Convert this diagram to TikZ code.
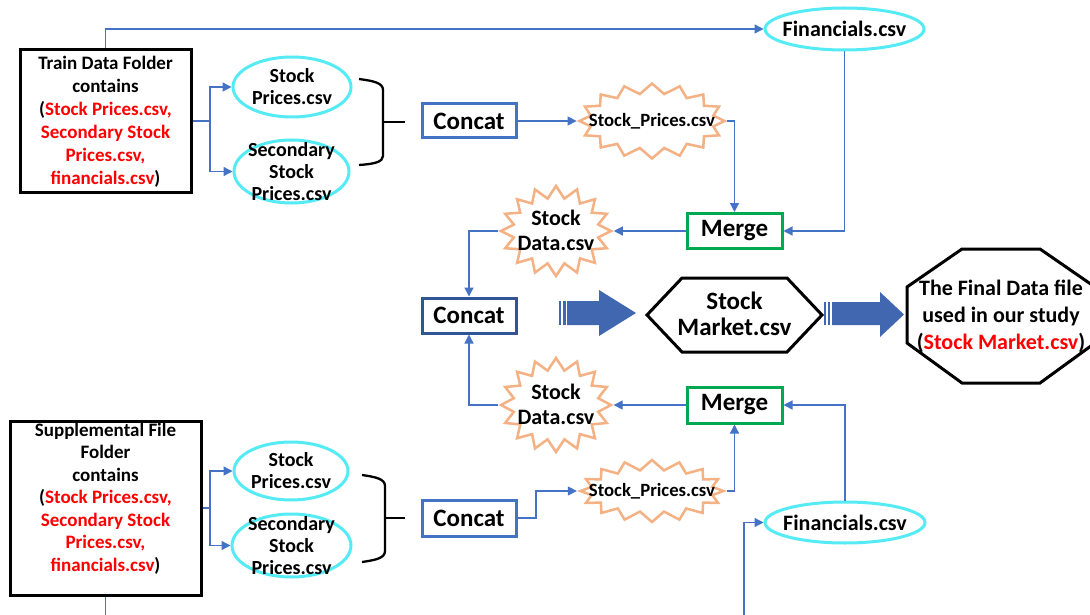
\documentclass[tikz,border=0pt]{standalone}
\usepackage{fontspec}
\setmainfont{Carlito}
\usetikzlibrary{shapes.geometric,shapes.symbols,arrows.meta}
\definecolor{cy}{RGB}{85,235,245}
\definecolor{ln}{RGB}{68,114,196}
\definecolor{cb}{RGB}{68,114,196}
\definecolor{cbd}{RGB}{47,85,151}
\definecolor{gr}{RGB}{0,168,80}
\definecolor{org}{RGB}{244,177,131}
\definecolor{blk}{RGB}{65,103,176}
\definecolor{rd}{RGB}{255,0,0}
\tikzset{
  conn/.style={draw=ln, line width=1.3pt},
  arr/.style={conn, -{Triangle[length=9pt,width=9pt]}},
  fileell/.style={ellipse, draw=cy, line width=3pt, fill=white, inner sep=0pt},
  folder/.style={rectangle, draw=black, line width=3pt, fill=white, inner sep=0pt},
  concatbox/.style={rectangle, draw=cb, line width=3pt, fill=white, minimum width=94pt, minimum height=34pt, inner sep=0pt, font=\fontsize{25}{28}\selectfont\bfseries},
  mergebox/.style={rectangle, draw=gr, line width=3pt, fill=white, minimum width=95pt, minimum height=35pt, inner sep=0pt, font=\fontsize{25}{28}\selectfont\bfseries},
  burst/.style={starburst, starburst points=16, random starburst=0, starburst point height=10pt, draw=org, line width=2.5pt, fill=white, inner sep=0pt},
  txt/.style={align=center, inner sep=0pt},
  boxtxt/.style={txt, font=\fontsize{19}{23}\selectfont\bfseries},
  elltxt/.style={txt, font=\fontsize{20}{22}\selectfont\bfseries},
  sprtxt/.style={txt, font=\fontsize{18.7}{20}\selectfont\bfseries},
  fintxt/.style={txt, font=\fontsize{22}{24}\selectfont\bfseries},
  sdtxt/.style={txt, font=\fontsize{22}{25}\selectfont\bfseries},
  brace/.style={draw=black, line width=2.3pt},
  outline/.style={draw=black, line width=3pt, line join=miter},
}
\begin{document}
\begin{tikzpicture}[x=1pt,y=-1pt]
\useasboundingbox (0,0) rectangle (1090,615);
\clip (0,0) rectangle (1090,615);
\fill[white] (0,0) rectangle (1090,615);

% ---------- top folder ----------
\node[folder, minimum width=171pt, minimum height=142pt] (tbox) at (105.5,121) {};
\node[boxtxt] (ttxt) at (105.5,121.5)
  {Train Data Folder\\contains\\({\color{rd}Stock Prices.csv,}\\{\color{rd}Secondary Stock}\\{\color{rd}Prices.csv,}\\{\color{rd}financials.csv})};

\node[fileell, minimum width=118pt, minimum height=60pt] (sp1) at (292,87) {};
\node[elltxt] at (sp1) {Stock\\Prices.csv};
\node[fileell, minimum width=115pt, minimum height=63pt] (sp2) at (291.5,171.5) {};
\node[elltxt] at (291.5,172) {Secondary\\Stock\\Prices.csv};

\draw[brace] (359,79) .. controls (374,81) and (383,83) .. (383,90) -- (383,156) .. controls (383,162) and (374,164) .. (359,165);
\draw[brace] (383,122) -- (405,122);

\node[concatbox] (c1) at (469,121) {Concat};
\node[burst, minimum width=145pt, minimum height=75pt] (spr1) at (652,121) {};
\node[sprtxt] at (spr1) {Stock\_Prices.csv};

\node[fileell, minimum width=159pt, minimum height=42pt] (fin1) at (844.5,29) {};
\node[fintxt] at (fin1) {Financials.csv};

\node[mergebox] (m1) at (734.5,231) {Merge};
\node[burst, starburst point height=12pt, minimum width=110pt, minimum height=90pt] (sd1) at (556,231) {};
\node[sdtxt] at (556,230) {Stock\\Data.csv};

% ---------- middle ----------
\node[concatbox, draw=cbd, minimum height=35pt] (c2) at (469,315.5) {Concat};

\fill[blk] (559,301) rectangle (561,325);
\fill[blk] (563,301) rectangle (565.5,325);
\fill[blk] (567,301) -- (599,301) -- (599,290) -- (636,313) -- (599,336) -- (599,325) -- (567,325) -- cycle;

\draw[outline] (647,315) -- (682,278) -- (787,278) -- (822,315) -- (787,352) -- (682,352) -- cycle;
\node[txt, font=\fontsize{25}{26}\selectfont\bfseries] (sm) at (734.5,314) {Stock\\Market.csv};

\fill[blk] (824,302) rectangle (826,325);
\fill[blk] (828,302) rectangle (830,325);
\fill[blk] (832,302) -- (880,302) -- (880,292) -- (904,314.5) -- (880,337) -- (880,325) -- (832,325) -- cycle;

\draw[outline] (962,249) -- (1040,249) -- (1095,287) -- (1095,343) -- (1040,383) -- (962,383) -- (907,343) -- (907,287) -- cycle;
\node[txt, font=\fontsize{22}{27}\selectfont\bfseries] (fin) at (1001,316)
  {The Final Data file\\used in our study\\({\color{rd}Stock Market.csv})};

% ---------- bottom ----------
\node[burst, starburst point height=12pt, minimum width=110pt, minimum height=94pt] (sd2) at (556,405) {};
\node[sdtxt] at (556,404) {Stock\\Data.csv};
\node[mergebox, minimum height=36pt] (m2) at (734.5,405) {Merge};

\node[folder, minimum width=191pt, minimum height=174pt] (sbox) at (105.5,508) {};
\node[txt, font=\fontsize{19}{22.5}\selectfont\bfseries] (stxt) at (105.5,498.5)
  {Supplemental File\\Folder\\contains\\({\color{rd}Stock Prices.csv,}\\{\color{rd}Secondary Stock}\\{\color{rd}Prices.csv,}\\{\color{rd}financials.csv})};

\node[fileell, minimum width=114pt, minimum height=58pt] (sp3) at (291,471) {};
\node[elltxt] at (sp3) {Stock\\Prices.csv};
\node[fileell, minimum width=119pt, minimum height=63pt] (sp4) at (291.5,545.5) {};
\node[elltxt] at (291.5,546) {Secondary\\Stock\\Prices.csv};

\draw[brace] (362,475) .. controls (376,477) and (385,479) .. (385,486) -- (385,551) .. controls (385,558) and (376,560) .. (362,562);
\draw[brace] (385,518) -- (405,518);

\node[concatbox, minimum height=36pt] (c3) at (469,518) {Concat};
\node[burst, minimum width=143pt, minimum height=62pt] (spr2) at (652,491) {};
\node[sprtxt] at (spr2) {Stock\_Prices.csv};

\node[fileell, minimum width=160pt, minimum height=41pt] (fin2) at (845,522.5) {};
\node[fintxt] at (fin2) {Financials.csv};

% ---------- connectors ----------
\coordinate (tj) at (210,121);
\draw[arr] (tbox.north) |- (fin1.west);
\draw[conn] (tbox.east) -- (tj);
\draw[arr] (tj) |- (sp1.west);
\draw[arr] (tj) |- (sp2.west);
\draw[arr] (c1.east) -- (spr1.west);
\draw[arr] (spr1.east) -| (m1.north);
\draw[arr] (fin1.south) |- (m1.east);
\draw[arr] (m1.west) -- (sd1.east);
\draw[arr] (sd1.west) -| (c2.north);
\draw[arr] (m2.west) -- (sd2.east);
\draw[arr] (sd2.west) -| (c2.south);
\coordinate (bj) at (536,518);
\draw[arr] (c3.east) -- (bj) |- (spr2.west);
\draw[arr] (spr2.east) -| (m2.south);
\draw[arr] (fin2.north) |- (m2.east);
\coordinate (bot1) at (744,615);
\draw[arr] (bot1) |- (fin2.west);
\coordinate (bot2) at (105.5,615);
\draw[conn] (sbox.south) -- (bot2);
\coordinate (sj) at (210,508);
\draw[conn] (sbox.east) -- (sj);
\draw[arr] (sj) |- (sp3.west);
\draw[arr] (sj) |- (sp4.west);
\end{tikzpicture}
\end{document}
